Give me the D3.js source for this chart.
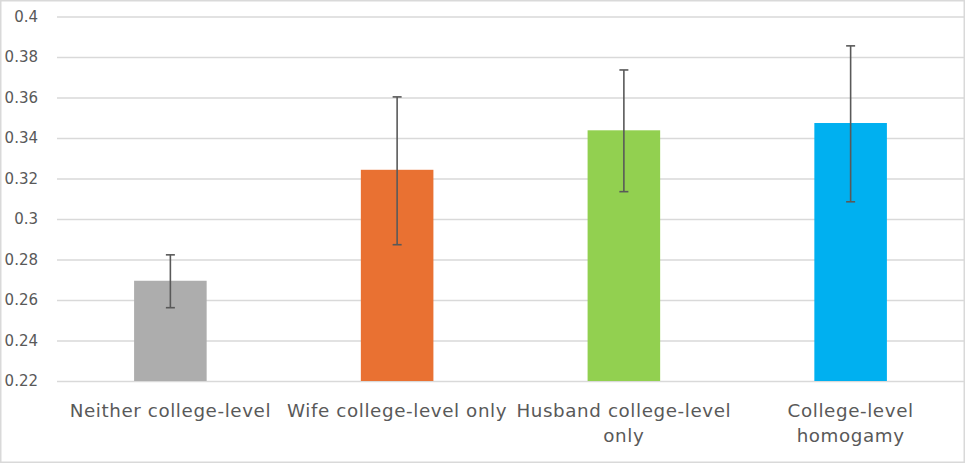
<!DOCTYPE html>
<html>
<head>
<meta charset="utf-8">
<script src="https://cdn.jsdelivr.net/npm/d3@7"></script>
<style>
  html, body { margin: 0; padding: 0; background: #fff; }
  svg { display: block; }
</style>
</head>
<body>
<svg id="chart" width="966" height="464"></svg>
<script>
const categories = ["Neither college-level", "Wife college-level only", "Husband college-level\nonly", "College-level\nhomogamy"];
const values = [0.2695, 0.3243, 0.3438, 0.3474];
const errLow = [0.2562, 0.2873, 0.3135, 0.3085];
const errHigh = [0.2823, 0.3603, 0.3736, 0.3855];
const colors = ["#ADADAD", "#E97132", "#92D050", "#00B0F0"];
const yTicks = [0.22, 0.24, 0.26, 0.28, 0.3, 0.32, 0.34, 0.36, 0.38, 0.4];
const yTickLabels = ["0.22", "0.24", "0.26", "0.28", "0.3", "0.32", "0.34", "0.36", "0.38", "0.4"];

const W = 966, H = 464;
const margin = { left: 57, right: 2, top: 16.5, bottom: 83 };
const svg = d3.select("#chart");
const font = "'DejaVu Sans', 'Liberation Sans', Arial, sans-serif";
const textColor = "#595959";

svg.append("rect").attr("x", 0.75).attr("y", 0.75).attr("width", W - 2.5).attr("height", H - 2.5)
  .attr("fill", "#fff").attr("stroke", "#d9d9d9").attr("stroke-width", 1.5);

const x = d3.scaleBand().domain(categories).range([margin.left, W - margin.right]).paddingInner(0.68).paddingOuter(0.34);
const y = d3.scaleLinear().domain([0.22, 0.4]).range([H - margin.bottom, margin.top]);

// gridlines + y axis labels
const yAxis = d3.axisLeft(y).tickValues(yTicks).tickFormat((d, i) => yTickLabels[i])
  .tickSize(-(W - margin.right - margin.left)).tickPadding(19);
const gy = svg.append("g").attr("transform", `translate(${margin.left},0)`).call(yAxis);
gy.select(".domain").remove();
gy.selectAll(".tick line").attr("stroke", "#d9d9d9").attr("stroke-width", 1.3);
gy.selectAll(".tick text").attr("fill", textColor).attr("font-family", font).attr("font-size", 15);

// bars
svg.append("g").selectAll("rect").data(categories).join("rect")
  .attr("x", d => x(d)).attr("width", x.bandwidth())
  .attr("y", (d, i) => y(values[i])).attr("height", (d, i) => y(0.22) - y(values[i]))
  .attr("fill", (d, i) => colors[i]);

// error bars
const eb = svg.append("g").attr("stroke", "#595959").attr("stroke-width", 1.6);
categories.forEach((c, i) => {
  const cx = x(c) + x.bandwidth() / 2;
  eb.append("line").attr("x1", cx).attr("x2", cx).attr("y1", y(errLow[i])).attr("y2", y(errHigh[i]));
  [errLow[i], errHigh[i]].forEach(v => {
    eb.append("line").attr("x1", cx - 4.5).attr("x2", cx + 4.5).attr("y1", y(v)).attr("y2", y(v));
  });
});

// category labels
const labels = svg.append("g").attr("font-family", font).attr("font-size", 18.3)
  .attr("letter-spacing", 0.6).attr("fill", textColor).attr("text-anchor", "middle");
categories.forEach(c => {
  const cx = x(c) + x.bandwidth() / 2;
  const t = labels.append("text").attr("x", cx).attr("y", 417);
  c.split("\n").forEach((line, j) => {
    t.append("tspan").attr("x", cx).attr("dy", j === 0 ? 0 : 25).text(line);
  });
});
</script>
</body>
</html>
